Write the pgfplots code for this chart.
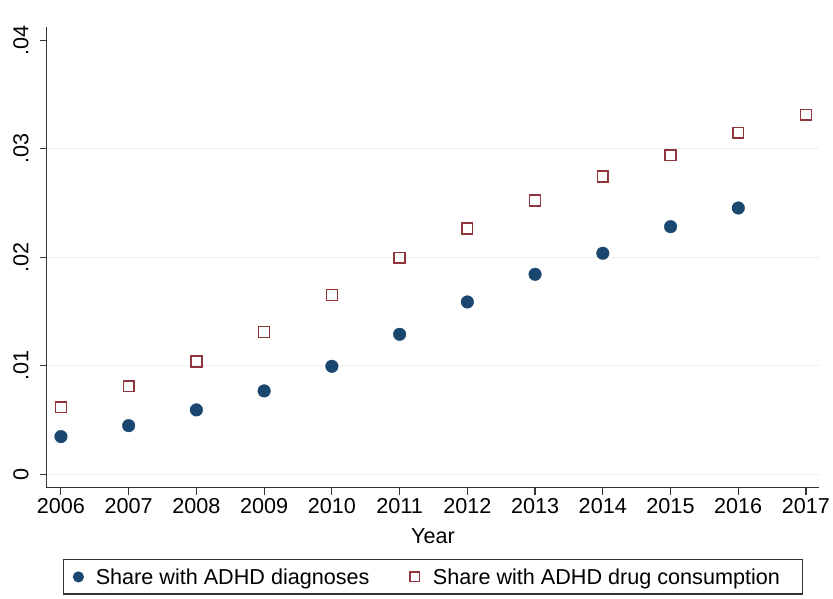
\documentclass[border=0pt]{standalone}
\usepackage{pgfplots}
\pgfplotsset{compat=1.18}
\usepackage{fontspec}
\setmainfont{Liberation Sans}
\definecolor{snavy}{HTML}{1A476F}
\definecolor{smaroon}{HTML}{90353B}
\definecolor{sgrid}{HTML}{EAEFF1}
\definecolor{saxis}{HTML}{333333}
\newcommand{\fs}{\fontsize{21.6bp}{26bp}\selectfont}
\begin{document}
\begin{tikzpicture}
\useasboundingbox (-46.7bp,-111.3bp) rectangle (786.3bp,487.7bp);
\begin{axis}[
  at={(0,0)}, anchor=south west,
  scale only axis, width=772.6bp, height=461bp,
  xmin=2005.79, xmax=2017.196, ymin=-0.00124, ymax=0.04125,
  scaled y ticks=false, scaled x ticks=false,
  axis lines*=left,
  axis line style={draw=saxis, line width=1.3bp},
  tick align=outside, major tick length=7bp,
  tick style={draw=saxis, line width=1.1bp},
  xtick={2006,...,2017},
  ytick={0,0.01,0.02,0.03,0.04},
  yticklabels={0,.01,.02,.03,.04},
  extra y ticks={0,0.01,0.02,0.03},
  extra y tick labels={},
  extra y tick style={ymajorgrids=true, major tick length=0bp},
  major grid style={draw=sgrid, line width=1.2bp},
  /pgf/number format/assume math mode=true,
  xticklabel style={font=\fs, /pgf/number format/1000 sep={}},
  yticklabel style={font=\fs, rotate=90, anchor=south, inner ysep=11bp},
  xlabel={Year},
  xlabel style={font=\fs, at={(axis description cs:0.5,0)}, anchor=base, yshift=-55.3bp},
  legend columns=2,
  legend style={at={(0.5,-0.1553)}, anchor=north, font=\fs,
    draw=saxis, line width=1.1bp, inner xsep=0bp, inner ysep=3.5bp,
    nodes={inner xsep=0bp, inner ysep=5bp}},
  legend cell align=left,
]
\addplot[only marks, mark=*, mark size=6.3bp, draw=snavy, fill=snavy, forget plot] coordinates {
(2006,0.00347) (2007,0.00448) (2008,0.00593) (2009,0.00768) (2010,0.00995)
(2011,0.0129) (2012,0.01588) (2013,0.01843) (2014,0.02037) (2015,0.02282)
(2016,0.02454)
};
\addplot[only marks, mark=square, mark size=5.4bp, mark options={draw=smaroon, line width=1.5bp}, forget plot] coordinates {
(2006,0.00617) (2007,0.00811) (2008,0.01038) (2009,0.01312) (2010,0.01653)
(2011,0.01996) (2012,0.02264) (2013,0.02522) (2014,0.02743) (2015,0.0294)
(2016,0.03148) (2017,0.03314)
};
\addlegendimage{legend image code/.code={%
  \path[draw=none, fill=none] (-15bp,-1bp) rectangle (17.4bp,1bp);
  \fill[snavy, draw=none] (0bp,0bp) circle (5.6bp);}}
\addlegendentry{Share with ADHD diagnoses}
\addlegendimage{legend image code/.code={%
  \path[draw=none, fill=none] (-45.2bp,-1bp) rectangle (18.2bp,1bp);
  \draw[smaroon, fill=none, line width=1.3bp] (-4.8bp,-4.8bp) rectangle (4.8bp,4.8bp);}}
\addlegendentry{Share with ADHD drug consumption\rule{22.7bp}{0pt}}
\end{axis}
\end{tikzpicture}
\end{document}
